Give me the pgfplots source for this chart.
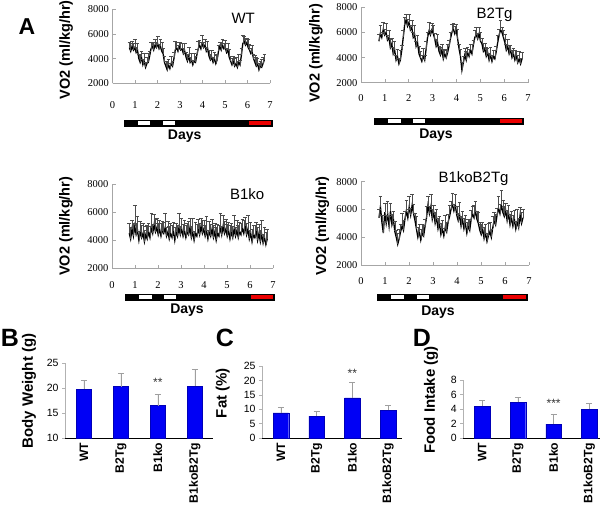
\documentclass[border=0pt]{standalone}
\usepackage{pgfplots}
\pgfplotsset{compat=1.18}
\usepackage{pgfplotstable}
\usepackage{fontspec}
\setmainfont{Liberation Sans}
\newfontfamily\serifnum{Liberation Serif}
\definecolor{barblue}{RGB}{0,0,245}
\definecolor{dayred}{RGB}{235,0,0}

\pgfplotstableread{
x wt wte b2 b2e ko koe kb kbe
0.75 4900 450 5300 520 4500 700 5400 600
0.81 4600 620 5900 680 4100 850 6200 750
0.87 5000 380 5600 400 4800 600 5100 500
0.93 4700 540 6200 600 4300 950 4300 820
0.99 4900 700 5800 450 5000 1500 5800 650
1.05 4500 420 6000 750 4400 800 5000 560
1.11 4700 510 5400 380 4700 1000 5700 900
1.17 4000 360 5600 560 4000 620 4800 700
1.23 3700 650 4800 640 4600 760 5900 540
1.29 4100 480 5100 470 4200 880 4900 780
1.35 3500 450 4300 520 4500 700 5300 600
1.41 3800 620 4600 680 3900 850 4400 750
1.47 3300 380 3800 400 4400 600 4000 500
1.53 3600 540 4100 600 4100 950 3500 820
1.59 3700 700 3500 450 4600 650 3900 650
1.65 4200 420 3800 750 4200 800 4400 560
1.71 4800 510 4600 380 4900 1000 4800 900
1.77 5000 360 5600 560 4500 620 4500 700
1.83 4700 650 6600 640 5100 760 5300 540
1.89 5100 480 7000 470 4600 880 5900 780
1.95 4900 450 6500 520 4900 700 5400 600
2.01 5200 620 6800 680 4400 850 6200 750
2.07 4800 380 6200 400 4800 600 5600 500
2.13 5000 540 6400 600 4300 950 6300 820
2.19 4600 700 5600 450 4700 650 5700 650
2.25 4400 420 5800 750 4500 800 5200 560
2.31 3700 510 4900 380 4900 1000 4600 900
2.37 3400 360 5200 560 4300 620 4000 700
2.43 3100 650 4300 640 4600 760 4400 540
2.49 3500 480 4000 470 4100 880 3800 780
2.55 3200 450 3700 520 4500 700 4300 600
2.61 3600 620 4100 680 4200 850 4100 750
2.67 3400 380 3800 400 4700 600 4800 500
2.73 4000 540 4700 600 4000 950 5400 820
2.79 4700 700 5600 450 4600 650 6300 650
2.85 4900 420 6100 750 4300 800 5700 560
2.91 4600 510 5800 380 4900 1000 6200 900
2.97 5000 360 6200 560 4400 620 5300 700
3.03 4700 650 5900 640 4800 760 5800 540
3.09 4800 480 5500 470 4300 880 5000 780
3.15 4400 450 4900 520 4700 700 5400 600
3.21 4600 620 5200 680 4200 850 4600 750
3.27 4100 380 4500 400 4600 600 5000 500
3.33 3800 540 4200 600 4400 950 4200 820
3.39 4200 700 4600 450 4900 650 4600 650
3.45 3700 420 3900 750 4200 800 4100 560
3.51 3900 510 4300 380 4600 1000 4700 900
3.57 3500 360 4000 560 4000 620 4400 700
3.63 3800 650 4400 640 4500 760 5100 540
3.69 3700 480 4900 470 4300 880 5500 780
3.75 4300 450 5500 520 4800 700 6000 600
3.81 4800 620 6000 680 4400 850 6400 750
3.87 5100 380 6300 400 5000 600 5900 500
3.93 4800 540 5900 600 4500 950 6300 820
3.99 5200 700 6200 450 4800 650 5600 650
4.05 4900 420 5500 750 4300 800 5200 560
4.11 5100 510 4700 380 4700 1000 5600 900
4.17 4600 360 4100 560 4100 620 4800 700
4.23 4800 650 3000 640 4600 760 5300 540
4.29 4200 480 3600 470 4300 880 4600 780
4.35 3900 450 4200 520 4800 700 5000 600
4.41 4100 620 3800 680 4200 850 4300 750
4.47 3700 380 4400 400 4600 600 4800 500
4.53 4000 540 4100 600 4000 950 4500 820
4.59 3600 700 4600 450 4500 650 5300 650
4.65 3900 420 4300 750 4300 800 5700 560
4.71 4600 510 5000 380 4900 1000 5400 900
4.77 5000 360 5600 560 4400 620 5900 700
4.83 4700 650 5800 640 5000 760 5300 540
4.89 5100 480 5500 470 4500 880 5000 780
4.95 4800 450 5900 520 4800 700 4500 600
5.01 4900 620 5300 680 4300 850 4200 750
5.07 4500 380 5100 400 4700 600 4600 500
5.13 4700 540 4500 600 4100 950 3900 820
5.19 4100 700 4700 450 4600 650 4300 650
5.25 3800 420 4100 750 4200 800 3700 560
5.31 3500 510 4400 380 4800 1000 4100 900
5.37 3800 360 3800 560 4300 620 4400 700
5.43 3400 650 4200 640 4700 760 4000 540
5.49 3600 480 3700 470 4200 880 4700 780
5.55 3300 450 4100 520 4600 700 5200 600
5.61 3700 620 3900 680 4400 850 4900 750
5.67 3500 380 4500 400 4900 600 5600 500
5.73 4300 540 5200 600 4500 950 6100 820
5.79 5200 700 5800 450 5000 650 5700 650
5.85 5400 420 6200 750 4400 800 6300 1100
5.91 5100 510 6000 380 4800 1000 5800 900
5.97 5300 360 5600 560 4100 620 5500 700
6.03 4900 650 5200 640 4500 760 5900 540
6.09 4700 480 4600 470 3900 880 5200 780
6.15 4400 450 4900 520 4400 700 5700 600
6.21 4500 620 4300 680 4200 850 4900 750
6.27 4000 380 4600 400 4700 600 5400 500
6.33 3700 540 4000 600 4000 950 4800 820
6.39 3400 700 4300 450 4500 650 5300 650
6.45 3600 420 3800 750 3900 800 4600 560
6.51 3100 510 4100 380 4400 1000 5100 900
6.57 3400 360 3600 560 3800 620 4700 700
6.63 3300 650 3900 640 4200 760 5600 540
6.69 3600 480 3500 470 3700 880 5000 780
6.75 3900 450 3900 520 4100 700 5400 600
}\vo

\pgfplotsset{
  vo/.style={
    scale only axis, anchor=south west,
    xmin=0, xmax=7, ymin=2000, ymax=8000,
    axis lines*=left,
    axis line style={gray!70, line width=0.5pt},
    tick align=inside, major tick length=3.5pt,
    tick style={gray!70, line width=0.5pt},
    xtick={0,1,2,3,4,5,6,7}, ytick={2000,4000,6000,8000},
    scaled ticks=false,
    /pgf/number format/1000 sep={},
    /pgf/number format/assume math mode=true,
    ticklabel style={font=\serifnum\fontsize{10.5}{12}\selectfont},
    ylabel={VO2 (ml/kg/hr)},
    ylabel style={font=\bfseries\fontsize{14.5}{16}\selectfont, anchor=center},
    clip=false,
  },
  vol/.style={black, line width=1.3pt, mark=none,
    error bars/.cd, y dir=plus, y explicit,
    error bar style={black!70, line width=0.5pt},
    error mark options={rotate=90, mark size=1.8pt, black!70, line width=0.5pt}},
  daybar/.style={hide axis, scale only axis, anchor=south west,
    xmin=0, xmax=1, ymin=0, ymax=1, height=6pt, clip=false,
    every axis plot/.append style={mark=none}},
  bars/.style={
    scale only axis, anchor=south west, ybar, bar width=15.5pt,
    axis x line*=bottom, axis y line*=left,
    x axis line style={black, line width=0.6pt},
    y axis line style={gray!60, line width=0.6pt},
    xtick={0,1,2,3}, xticklabels={WT,B2Tg,B1ko,B1koB2Tg},
    xticklabel style={rotate=90, anchor=east, inner sep=1.5pt, font=\bfseries\fontsize{12.2}{13}\selectfont},
    x tick style={draw=none},
    y tick style={gray!60, line width=0.5pt}, tick align=outside, major tick length=3pt,
    /pgf/number format/assume math mode=true,
    yticklabel style={font=\fontsize{10.5}{12}\selectfont},
    ylabel style={font=\bfseries\fontsize{15}{16}\selectfont, anchor=center},
  },
  barplot/.style={fill=barblue, draw=barblue!75!black, line width=0.3pt,
    error bars/.cd, y dir=plus, y explicit,
    error bar style={gray!75, line width=0.6pt},
    error mark options={rotate=90, mark size=3pt, gray!75, line width=0.6pt}},
}

\newcommand{\daysegs}{%
  \addplot[fill=black, draw=black] coordinates {(0,0) (1,0) (1,1) (0,1)};
  \addplot[fill=white, draw=none] coordinates {(0.095,0.18) (0.178,0.18) (0.178,0.82) (0.095,0.82)};
  \addplot[fill=white, draw=none] coordinates {(0.265,0.18) (0.345,0.18) (0.345,0.82) (0.265,0.82)};
  \addplot[fill=dayred, draw=none] coordinates {(0.843,0.12) (0.995,0.12) (0.995,0.88) (0.843,0.88)};
}

\begin{document}
\begin{tikzpicture}
\path[use as bounding box] (0pt,0pt) rectangle (600pt,-507pt);

% ---------- Panel A: WT ----------
\begin{axis}[vo, at={(112.5pt,-83.3pt)}, width=157.5pt, height=74pt,
  xticklabel style={yshift=-15pt},
  ylabel style={at={(axis description cs:-0.295,0.45)}}]
\addplot+[vol] table[x=x, y=wt, y error=wte] {\vo};
\node[font=\fontsize{15}{16}\selectfont] at (rel axis cs:0.83,0.88) {WT};
\end{axis}
\begin{axis}[daybar, at={(124pt,-126pt)}, width=148pt]
\daysegs
\node[font=\bfseries\fontsize{14}{15}\selectfont] at (rel axis cs:0.41,0) [yshift=-10pt] {Days};
\end{axis}

% ---------- B2Tg ----------
\begin{axis}[vo, at={(361pt,-82.7pt)}, width=167pt, height=75.4pt,
  xticklabel style={yshift=-8pt},
  ylabel style={at={(axis description cs:-0.27,0.39)}}]
\addplot+[vol] table[x=x, y=b2, y error=b2e] {\vo};
\node[font=\fontsize{15}{16}\selectfont] at (rel axis cs:0.80,0.90) {B2Tg};
\end{axis}
\begin{axis}[daybar, at={(374pt,-124pt)}, width=149pt]
\daysegs
\node[font=\bfseries\fontsize{14}{15}\selectfont] at (rel axis cs:0.416,0) [yshift=-11pt] {Days};
\end{axis}

% ---------- B1ko ----------
\begin{axis}[vo, at={(112pt,-268.3pt)}, width=161pt, height=84pt,
  xticklabel style={yshift=-10pt},
  ylabel style={at={(axis description cs:-0.286,0.5)}}]
\addplot+[vol] table[x=x, y=ko, y error=koe] {\vo};
\node[font=\fontsize{15}{16}\selectfont] at (rel axis cs:0.84,0.885) {B1ko};
\end{axis}
\begin{axis}[daybar, at={(125pt,-300pt)}, width=149pt]
\daysegs
\node[font=\bfseries\fontsize{14}{15}\selectfont] at (rel axis cs:0.416,0) [yshift=-10pt] {Days};
\end{axis}

% ---------- B1koB2Tg ----------
\begin{axis}[vo, at={(361pt,-265pt)}, width=168pt, height=83.3pt,
  xticklabel style={yshift=-9pt},
  ylabel style={at={(axis description cs:-0.23,0.47)}}]
\addplot+[vol] table[x=x, y=kb, y error=kbe] {\vo};
\node[font=\fontsize{15}{16}\selectfont] at (rel axis cs:0.67,1.04) {B1koB2Tg};
\end{axis}
\begin{axis}[daybar, at={(377pt,-300pt)}, width=150pt]
\daysegs
\node[font=\bfseries\fontsize{14}{15}\selectfont] at (rel axis cs:0.407,0) [yshift=-12pt] {Days};
\end{axis}

% ---------- B: Body weight ----------
\begin{axis}[bars, at={(65pt,-438pt)}, width=148pt, height=75pt,
  xmin=-0.51, xmax=3.49, ymin=10, ymax=25, ytick={10,15,20,25},
  ylabel={Body Weight (g)},
  ylabel style={at={(axis description cs:-0.243,0.627)}}]
\addplot[barplot] coordinates {(0,19.8) +- (0,1.7) (1,20.3) +- (0,2.6) (2,16.5) +- (0,2.3) (3,20.4) +- (0,3.4)};
\node[font=\fontsize{12}{13}\selectfont, text=black!80] at (axis cs:2,21.1) {**};
\end{axis}

% ---------- C: Fat ----------
\begin{axis}[bars, at={(262pt,-438pt)}, width=140.3pt, height=72pt,
  xmin=-0.53, xmax=3.4, ymin=0, ymax=25, ytick={0,5,10,15,20,25},
  ylabel={Fat (\%)},
  ylabel style={at={(axis description cs:-0.28,0.625)}}]
\addplot[barplot] coordinates {(0,8.7) +- (0,1.9) (1,7.6) +- (0,1.6) (2,13.9) +- (0,5.5) (3,9.7) +- (0,1.7)};
\node[font=\fontsize{12}{13}\selectfont, text=black!80] at (axis cs:2,22.4) {**};
\end{axis}

% ---------- D: Food intake ----------
\begin{axis}[bars, at={(463.3pt,-438pt)}, width=136.7pt, height=58pt,
  xmin=-0.53, xmax=3.3, ymin=0, ymax=8, ytick={0,2,4,6,8},
  ylabel={Food Intake (g)},
  ylabel style={at={(axis description cs:-0.236,0.655)}}]
\addplot[barplot] coordinates {(0,4.4) +- (0,0.8) (1,4.9) +- (0,0.7) (2,1.9) +- (0,1.4) (3,4.0) +- (0,0.8)};
\node[font=\fontsize{12}{13}\selectfont, text=black!80] at (axis cs:2,4.8) {***};
\end{axis}

% ---------- panel letters ----------
\node[font=\bfseries\fontsize{23}{24}\selectfont] at (27pt,-27pt) {A};
\node[font=\bfseries\fontsize{25}{26}\selectfont] at (10pt,-338pt) {B};
\node[font=\bfseries\fontsize{25}{26}\selectfont] at (225pt,-338pt) {C};
\node[font=\bfseries\fontsize{25}{26}\selectfont] at (422pt,-338pt) {D};
\end{tikzpicture}
\end{document}
